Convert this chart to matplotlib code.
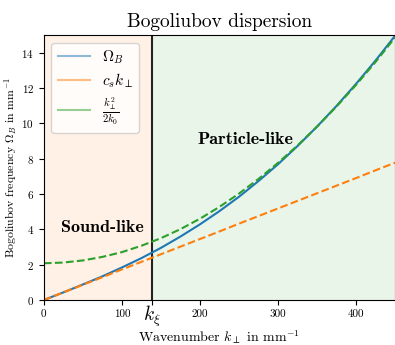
import numpy as np
import matplotlib
matplotlib.use('Agg')
import matplotlib.pyplot as plt
from matplotlib.lines import Line2D

plt.rcParams['font.family'] = 'serif'
plt.rcParams['font.serif'] = ['cmr10']
plt.rcParams['mathtext.fontset'] = 'cm'
plt.rcParams['axes.unicode_minus'] = False
plt.rcParams['axes.formatter.use_mathtext'] = True

# values
k = [0, 25, 50, 75, 100, 125, 150, 175, 200, 225, 250, 275, 300, 325, 350, 375, 400, 425, 450]
omega_b = [0.0, 0.43, 0.88, 1.34, 1.84, 2.37, 2.95, 3.59, 4.28, 5.03, 5.84, 6.73, 7.68,
           8.71, 9.81, 10.98, 12.23, 13.55, 14.95]
sound = [0.0, 0.43, 0.86, 1.29, 1.73, 2.16, 2.59, 3.02, 3.45, 3.88, 4.32, 4.75, 5.18,
         5.61, 6.04, 6.47, 6.90, 7.34, 7.77]
particle = [2.08, 2.12, 2.24, 2.44, 2.71, 3.07, 3.50, 4.01, 4.60, 5.27, 6.02, 6.85, 7.76,
            8.74, 9.81, 10.95, 12.17, 13.47, 14.85]
k_xi = 138.5
k_max = 450

fig = plt.figure(figsize=(3.95, 3.45), dpi=100)
ax = fig.add_axes([0.111, 0.1304, 0.889, 0.7682])

ax.axvspan(0, k_xi, color='tab:orange', alpha=0.1, lw=0)
ax.axvspan(k_xi, k_max, color='tab:green', alpha=0.1, lw=0)
ax.axvline(k_xi, color='#222222', lw=1.5)

ax.plot(k, omega_b, color='tab:blue', lw=1.5)
ax.plot(k, sound, color='tab:orange', lw=1.5, ls='--')
ax.plot(k, particle, color='tab:green', lw=1.5, ls='--')

handles = [Line2D([], [], color='tab:blue', alpha=0.5, lw=1.5),
           Line2D([], [], color='tab:orange', alpha=0.5, lw=1.5),
           Line2D([], [], color='tab:green', alpha=0.5, lw=1.5)]
labels = [r'$\Omega_B$', r'$c_s k_\perp$', r'$\frac{k_\perp^2}{2k_0}$']
ax.legend(handles, labels, loc='upper left', fontsize=11, framealpha=0.8,
          handlelength=2.1, labelspacing=0.35, borderaxespad=0.5)

ax.text(75, 4.1, 'Sound-like', fontfamily='cmb10', fontsize=13, ha='center', va='center')
ax.text(258, 9.1, 'Particle-like', fontfamily='cmb10', fontsize=13, ha='center', va='center')

ax.set_xlim(0, k_max)
ax.set_ylim(0, 15)
ax.set_xticks([0, 100, k_xi, 200, 300, 400])
ax.set_xticklabels(['0', '100', '', '200', '300', '400'], fontsize=8)
ax.text(k_xi, -0.2, r'$k_\xi$', fontsize=14, ha='center', va='top')
ax.set_yticks([0, 2, 4, 6, 8, 10, 12, 14])
ax.tick_params(axis='y', labelsize=8)
ax.set_xlabel(r'Wavenumber $k_\perp$ in mm$^{-1}$', fontsize=10, labelpad=6)
ax.set_ylabel(r'Bogoliubov frequency $\Omega_B$ in mm$^{-1}$', fontsize=8.5)
ax.yaxis.set_label_coords(-0.072, 0.5)
ax.set_title('Bogoliubov dispersion', fontsize=14)

plt.savefig('out.png', dpi=100)
